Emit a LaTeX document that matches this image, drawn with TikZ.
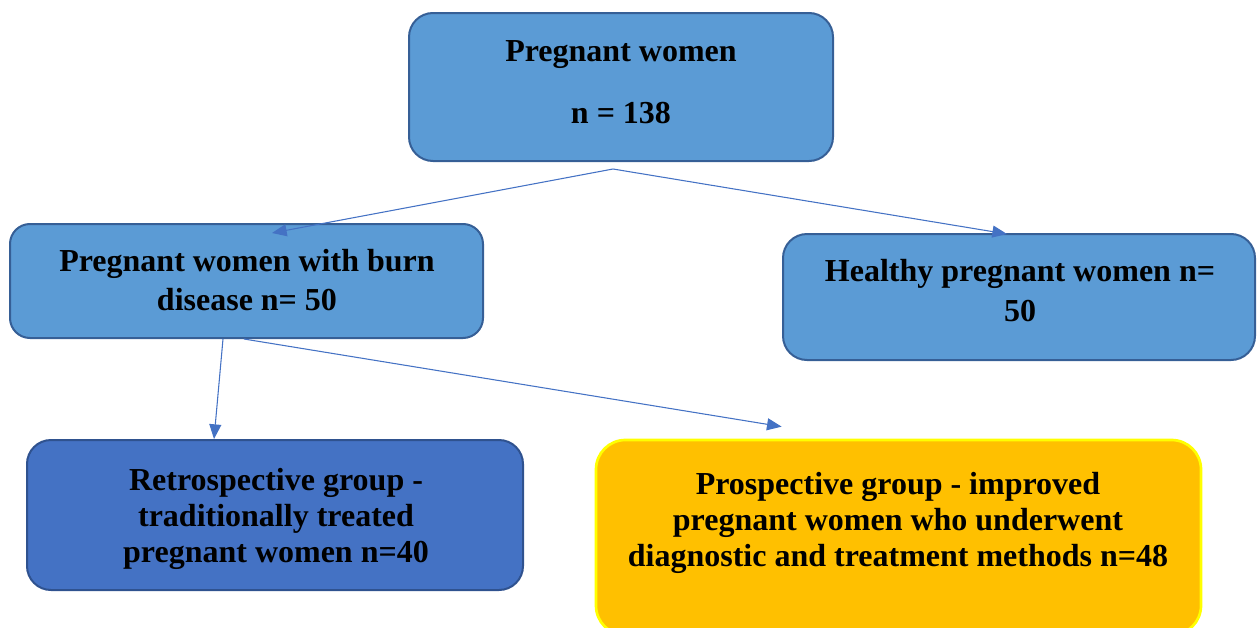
\documentclass[tikz,border=0pt]{standalone}
\usepackage{fontspec}
\setmainfont{Liberation Serif}
\usetikzlibrary{arrows.meta,calc}
\definecolor{boxfill}{HTML}{5B9BD5}
\definecolor{boxline}{HTML}{365F96}
\definecolor{darkfill}{HTML}{4472C4}
\definecolor{darkline}{HTML}{2F528F}
\definecolor{goldfill}{HTML}{FFC000}
\definecolor{goldline}{HTML}{FFFF00}
\definecolor{arrowc}{HTML}{4472C4}
\begin{document}
\begin{tikzpicture}[x=0.75pt,y=-0.75pt,
  box/.style={draw=boxline, fill=boxfill, line width=1.5pt, rounded corners=18pt, inner sep=0pt},
  darkbox/.style={box, draw=darkline, fill=darkfill},
  goldbox/.style={box, draw=goldline, fill=goldfill, line width=2pt, rounded corners=22pt},
  txt/.style={align=center, inner sep=0pt, font=\bfseries\fontsize{24}{29.5}\selectfont},
  arr/.style={draw=arrowc, line width=0.8pt, -{Triangle[length=11pt,width=9pt]}}]
\useasboundingbox (0,0) rectangle (1257,628);
% boxes
\node[box, minimum width=318pt, minimum height=111pt] (top) at (621,87) {};
\node[box, minimum width=354.75pt, minimum height=85.5pt, rounded corners=15pt] (burn) at (246.5,281) {};
\node[box, minimum width=354pt, minimum height=94.5pt] (healthy) at (1019,297) {};
\node[darkbox, minimum width=372pt, minimum height=112.5pt] (retro) at (275,515) {};
\node[goldbox, minimum width=453.75pt, minimum height=146.25pt] (prosp) at (898.5,537.5) {};
% texts
\node[txt, font=\bfseries\fontsize{24}{46.5}\selectfont] (toptxt) at (621,82.5) {Pregnant women\\n = 138};
\node[txt, font=\bfseries\fontsize{24}{29.25}\selectfont] (burntxt) at (247,280) {Pregnant women with burn\\disease n= 50};
\node[txt, font=\bfseries\fontsize{24}{30}\selectfont] (healthytxt) at (1020,290.5) {Healthy pregnant women n=\\50};
\node[txt, font=\bfseries\fontsize{24}{27}\selectfont] (retrotxt) at (276,518.5) {Retrospective group -\\traditionally treated\\pregnant women n=40};
\node[txt, font=\bfseries\fontsize{24}{27}\selectfont] (prosptxt) at (898,522.5) {Prospective group - improved\\pregnant women who underwent\\diagnostic and treatment methods n=48};
% connectors
\coordinate (split) at ($(top.south)+(-8,7)$);
\draw[arr] (split) -- ($(burn.north west)+(263,10)$);
\draw[arr] (split) -- ($(healthy.north west)+(225,1)$);
\draw[arr] ($(burn.south west)+(214,0)$) -- ($(retro.north west)+(188,0)$);
\draw[arr] ($(burn.south west)+(235,0)$) -- ($(prosp.north west)+(187,-12)$);
\end{tikzpicture}
\end{document}
